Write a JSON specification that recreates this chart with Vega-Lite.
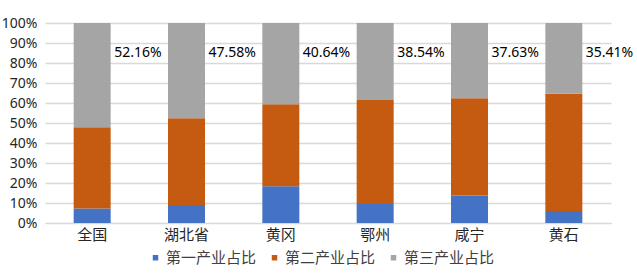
{
  "$schema": "https://vega.github.io/schema/vega-lite/v6.json",
  "autosize": "none",
  "width": 566,
  "height": 200,
  "padding": {"left": 45, "top": 23, "right": 26, "bottom": 50},
  "background": "white",
  "config": {
    "view": {"stroke": null},
    "font": "Noto Sans",
    "axis": {"labelColor": "#404040", "titleColor": "#404040"}
  },
  "data": {
    "values": [
      {"region": "全国", "type": "第一产业占比", "idx": 1, "value": 7.2},
      {"region": "全国", "type": "第二产业占比", "idx": 2, "value": 40.64},
      {"region": "全国", "type": "第三产业占比", "idx": 3, "value": 52.16},
      {"region": "湖北省", "type": "第一产业占比", "idx": 1, "value": 9.0},
      {"region": "湖北省", "type": "第二产业占比", "idx": 2, "value": 43.42},
      {"region": "湖北省", "type": "第三产业占比", "idx": 3, "value": 47.58},
      {"region": "黄冈", "type": "第一产业占比", "idx": 1, "value": 18.4},
      {"region": "黄冈", "type": "第二产业占比", "idx": 2, "value": 40.96},
      {"region": "黄冈", "type": "第三产业占比", "idx": 3, "value": 40.64},
      {"region": "鄂州", "type": "第一产业占比", "idx": 1, "value": 9.5},
      {"region": "鄂州", "type": "第二产业占比", "idx": 2, "value": 51.96},
      {"region": "鄂州", "type": "第三产业占比", "idx": 3, "value": 38.54},
      {"region": "咸宁", "type": "第一产业占比", "idx": 1, "value": 13.8},
      {"region": "咸宁", "type": "第二产业占比", "idx": 2, "value": 48.57},
      {"region": "咸宁", "type": "第三产业占比", "idx": 3, "value": 37.63},
      {"region": "黄石", "type": "第一产业占比", "idx": 1, "value": 6.0},
      {"region": "黄石", "type": "第二产业占比", "idx": 2, "value": 58.59},
      {"region": "黄石", "type": "第三产业占比", "idx": 3, "value": 35.41}
    ]
  },
  "encoding": {
    "x": {
      "field": "region",
      "type": "nominal",
      "sort": null,
      "scale": {"paddingInner": 0, "paddingOuter": 0},
      "axis": {
        "title": null,
        "labelAngle": 0,
        "labelFont": "Noto Sans CJK SC",
        "labelFontSize": 15,
        "labelColor": "#262626",
        "labelPadding": 4,
        "ticks": false,
        "domainColor": "#d9d9d9",
        "grid": false
      }
    }
  },
  "layer": [
    {
      "mark": {"type": "bar", "size": 37},
      "encoding": {
        "y": {
          "field": "value",
          "type": "quantitative",
          "stack": "zero",
          "scale": {"domain": [0, 100]},
          "axis": {
            "title": null,
            "values": [0, 10, 20, 30, 40, 50, 60, 70, 80, 90, 100],
            "labelExpr": "datum.value + '%'",
            "labelOverlap": false,
            "labelFontSize": 14,
            "labelColor": "#262626",
            "labelPadding": 8,
            "ticks": false,
            "domain": false,
            "gridColor": "#d9d9d9",
            "gridWidth": 1.3
          }
        },
        "color": {
          "field": "type",
          "type": "nominal",
          "scale": {
            "domain": ["第一产业占比", "第二产业占比", "第三产业占比"],
            "range": ["#4472C4", "#C55A11", "#A5A5A5"]
          },
          "legend": {
            "title": null,
            "orient": "none",
            "direction": "horizontal",
            "legendX": 103,
            "legendY": 227,
            "symbolType": "square",
            "symbolSize": 30,
            "symbolStrokeWidth": 0,
            "labelFont": "Noto Sans CJK SC",
            "labelFontSize": 15,
            "labelColor": "#404040",
            "labelOffset": 3,
            "columnPadding": 10
          }
        },
        "order": {"field": "idx", "type": "quantitative"}
      }
    },
    {
      "transform": [
        {"filter": "datum.idx == 3"},
        {"calculate": "format(datum.value, '.2f') + '%'", "as": "label"}
      ],
      "mark": {"type": "text", "align": "left", "dx": 22, "fontSize": 14, "color": "#000000"},
      "encoding": {
        "y": {
          "datum": 85,
          "type": "quantitative",
          "scale": {"domain": [0, 100]},
          "axis": {
            "title": null,
            "values": [0, 10, 20, 30, 40, 50, 60, 70, 80, 90, 100],
            "labelExpr": "datum.value + '%'",
            "labelOverlap": false,
            "labelFontSize": 14,
            "labelColor": "#262626",
            "labelPadding": 8,
            "ticks": false,
            "domain": false,
            "gridColor": "#d9d9d9",
            "gridWidth": 1.3
          }
        },
        "text": {"field": "label"}
      }
    }
  ]
}
